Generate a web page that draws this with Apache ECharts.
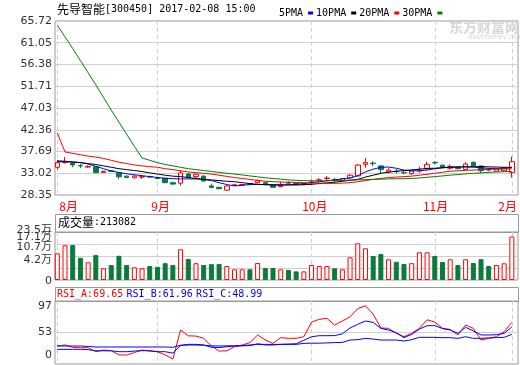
<!DOCTYPE html>
<html><head><meta charset="utf-8">
<script src="https://cdn.jsdelivr.net/npm/echarts@6/dist/echarts.min.js"></script>
<style>html,body{margin:0;padding:0;background:#fff}#c{width:520px;height:365px}</style>
</head><body><div id="c"></div>
<script>
const stockName = '先导智能';
const stockCode = '300450';
const timeStamp = '2017-02-08 15:00';
const maNames = ['5PMA', '10PMA', '20PMA', '30PMA'];
const monthTickIdx = [0, 13, 33, 49, 59];
const monthLabels = ['8月', '9月', '10月', '11月', '2月'];
const priceTicks = [28.35, 33.02, 37.69, 42.36, 47.03, 51.71, 56.38, 61.05, 65.72];
const volTickLabels = ['0', '4.2万', '10.7万', '17.1万', '23.5万'];
const volMax = 235000;
const rsiTickLabels = [0, 53, 97];

const opens  = [34.3,35.3,35.2,34.7,34.35,34.4,33.2,33.55,33.13,32.4,32.05,32.2,32.3,32.0,31.95,31.0,30.9,32.85,32.3,32.4,
                30.3,30.0,29.4,30.4,30.45,30.75,31.0,31.0,30.5,30.15,31.0,30.9,30.6,31.0,31.5,31.9,31.65,31.45,32.05,32.45,
                34.95,35.2,34.6,33.3,33.45,33.2,32.95,33.5,34.07,35.35,34.75,34.1,34.2,33.85,35.35,34.57,33.8,33.45,33.56,33.2];
const closes = [35.3,35.5,34.8,34.6,34.45,33.15,33.45,33.45,32.27,32.1,32.4,32.3,32.2,31.9,31.0,30.7,33.1,32.14,32.8,31.35,
                29.95,29.7,30.28,30.55,30.6,30.65,31.4,30.75,30.0,30.5,30.9,30.6,30.7,31.2,31.6,32.0,31.55,31.9,32.6,34.78,
                35.3,35.1,33.85,33.7,33.35,33.1,33.5,33.75,34.93,35.25,34.3,34.5,34.0,35.0,34.6,33.56,33.7,33.95,34.2,35.5];
const lows   = [33.85,35.1,34.3,34.1,34.2,33.1,33.1,33.3,31.78,32.0,31.95,31.8,32.0,31.7,30.9,30.5,30.4,31.9,32.0,31.2,
                29.9,29.6,29.27,30.3,30.35,30.4,30.85,30.55,29.9,30.0,30.6,30.5,30.5,30.5,31.0,31.4,31.1,31.3,31.9,32.3,
                34.2,34.55,33.0,33.0,33.0,32.8,32.65,33.15,33.7,34.9,34.2,33.8,33.9,33.7,34.5,33.13,33.4,33.3,33.4,32.1];
const highs  = [35.85,36.5,35.3,35.0,34.7,34.5,33.55,33.7,33.3,32.5,32.6,32.6,32.5,32.1,32.0,31.2,33.6,33.1,33.0,32.6,
                30.8,30.1,30.4,30.7,30.75,30.95,31.7,31.2,30.6,31.2,31.3,31.0,30.9,31.7,32.0,32.4,32.0,32.0,32.85,35.0,
                36.3,35.6,34.7,34.1,33.9,33.5,33.7,34.4,35.5,35.6,34.85,34.9,34.4,35.4,35.6,34.7,34.2,34.1,34.3,36.6];
const volumes = [130700,170000,171000,109000,86700,122000,57300,73400,118500,73400,62200,57300,68500,64600,82300,73400,150300,102800,82300,73400,
                 77400,78800,68500,52400,52400,52400,83200,58800,58800,52400,49000,42100,42100,73400,68500,68500,57300,52400,111100,179700,
                 155200,117500,127300,101300,89100,78300,82300,135600,135600,117500,88100,101300,73400,101300,83200,101800,68500,73400,81800,213082];
const ma5  = [35.7,35.6,35.5,35.3,35.0,34.5,34.0,33.5,33.2,32.9,32.7,32.5,32.3,32.1,31.95,31.85,31.8,31.8,31.8,31.7,
              31.45,31.0,30.6,30.3,30.45,30.6,30.6,30.6,30.55,30.5,30.55,30.65,30.8,31.0,31.2,31.4,31.6,31.8,32.0,32.5,
              33.3,33.9,34.3,34.35,34.1,33.7,33.55,33.55,33.7,34.0,34.2,34.35,34.4,34.4,34.35,34.2,34.05,34.0,34.0,34.3];
const ma10 = [35.5,35.5,35.4,35.3,35.1,34.9,34.6,34.3,34.0,33.8,33.6,33.4,33.1,32.85,32.6,32.4,32.3,32.1,31.9,31.7,
              31.6,31.45,31.3,31.2,31.0,30.8,30.65,30.55,30.5,30.5,30.5,30.5,30.55,30.65,30.8,30.95,31.1,31.3,31.5,31.7,
              32.2,32.6,33.0,33.25,33.45,33.6,33.75,33.9,34.05,34.1,34.2,34.3,34.35,34.4,34.4,34.45,34.4,34.35,34.3,34.3];
const ma20 = [41.7,37.6,37.3,37.0,36.7,36.5,36.2,35.8,35.4,35.1,34.8,34.6,34.45,34.3,34.0,33.8,33.55,33.3,33.15,33.0,
              32.85,32.6,32.35,32.1,31.9,31.7,31.5,31.3,31.2,31.15,31.1,31.05,31.0,30.95,30.9,30.85,30.85,30.9,31.0,31.2,
              31.45,31.7,31.9,32.1,32.2,32.3,32.4,32.6,32.8,33.0,33.25,33.45,33.55,33.65,33.7,33.8,33.85,33.9,33.95,34.0];
const ma30 = [64.8,62.3,59.8,57.2,54.6,52.0,49.3,46.6,44.0,41.4,38.8,36.3,35.8,35.3,34.9,34.6,34.3,34.0,33.8,33.6,
              33.4,33.2,33.0,32.85,32.65,32.45,32.25,32.05,31.9,31.75,31.6,31.5,31.45,31.4,31.4,31.4,31.45,31.5,31.55,31.6,
              31.65,31.7,31.75,31.8,31.85,31.85,31.9,32.0,32.15,32.3,32.45,32.6,32.75,32.9,33.0,33.1,33.2,33.3,33.35,33.45];
const rsiA = [29.2,31,27,26.3,26.3,19.5,22.4,21.2,14,13.8,18,22.4,20.5,19.5,14,7,56.5,46.5,46.2,42.3,
              29.2,20.6,21,28,30.9,34.9,48,39.4,33.7,43.4,42.3,42.3,45.1,70,74.7,76.4,65,71.8,79.2,93,
              98,83.5,60,59.3,50.8,45.1,50.8,59.3,74,70,59.3,57.5,48,65,59.3,39.4,42.3,45.1,53.6,69.65];
const rsiB = [23.5,23.5,23.5,23.5,23,21,21,21,19.5,19.5,20.5,21.2,21.2,19.5,19.5,17,30,32,32,31,
              27,26.5,28,29,29.5,30,33,31,31,32,32.5,33,39,45,46.8,46.8,47,50,60,66.2,
              71.8,69.6,59.3,56.5,52,43.4,49.1,58,63.9,63.9,59,56.5,50.8,61,55,48,48,48.5,50.8,61.96];
const rsiC = [29.2,29.2,29.2,29.2,28.5,27.5,27.5,27.5,27.5,27.5,27.5,27.5,27.5,27.5,27.5,27,30.5,30.9,30.9,30.5,
              29.5,29.2,29.5,29.5,30,30.9,32,32,32,32,32,32,33.7,34,34,34.5,35,35.4,39.4,40,
              42.3,41,39.4,39.4,39.4,37.7,40,44,44,44,43.4,43.4,42.3,45,42.3,42.3,43,43.5,44,48.99];

const RED = '#ff0000', GREEN = '#0b7a3a', BLUE = '#0000ff', FRAME = '#999999', GRIDC = '#cfcfcf';
const MONO = "'DejaVu Sans Mono', monospace";
const SANS = "'DejaVu Sans', 'Noto Sans CJK SC', sans-serif";
const CJK = "'Noto Sans CJK SC', sans-serif";
const xMin = -0.3, xMax = 59.8;
const N = closes.length;
const idx = closes.map((_, i) => i);

function xAx(gi) {
  return {type: 'value', gridIndex: gi, min: xMin, max: xMax,
    axisLine: {show: false}, axisTick: {show: false, customValues: monthTickIdx},
    axisLabel: {show: false},
    splitLine: {show: true, lineStyle: {color: GRIDC, width: 1, type: [4, 3]}}};
}
const volTickVals = [0, 1, 2, 3, 4].map(k => volMax * k / 4);
const volRich = {
  r0: {padding: [2, 0, 0, 0], fontSize: 11, fontFamily: SANS, color: '#333'},
  r1: {padding: [0, 0, 16, 0], fontSize: 11, fontFamily: SANS, color: '#333'},
  r2: {padding: [0, 0, 18, 0], fontSize: 11, fontFamily: SANS, color: '#333'},
  r3: {padding: [0, 0, 14, 0], fontSize: 11, fontFamily: SANS, color: '#333'},
  r4: {padding: [0, 0, 4, 0], fontSize: 11, fontFamily: SANS, color: '#333'}
};
const volFmt = v => { const k = Math.round(v / volMax * 4); return '{r' + k + '|' + volTickLabels[k] + '}'; };
function line(name, data, color, xi, yi, z) {
  return {name, type: 'line', xAxisIndex: xi, yAxisIndex: yi, data: idx.map(i => [i, data[i]]),
    symbol: 'none', color, lineStyle: {color, width: 1}, itemStyle: {color}, z: z || 3, silent: true};
}

const chart = echarts.init(document.getElementById('c'), null, {renderer: 'canvas'});
chart.setOption({
  animation: false,
  backgroundColor: '#fff',
  legend: {data: maNames, left: 274, top: 3, align: 'right', icon: 'rect', itemWidth: 5, itemHeight: 3,
    itemGap: 3, selectedMode: false, textStyle: {fontFamily: MONO, fontSize: 10, color: '#000'}},
  grid: [
    {left: 55, right: 2, top: 21, height: 174, show: true, borderColor: FRAME, borderWidth: 1},
    {left: 51, right: 6, top: 21, height: 174, show: false},
    {left: 55, right: 2, top: 232, height: 48, show: true, borderColor: FRAME, borderWidth: 1},
    {left: 55, right: 2, top: 301, height: 63, show: true, borderColor: FRAME, borderWidth: 1}
  ],
  xAxis: [
    xAx(0),
    {type: 'value', gridIndex: 1, min: xMin, max: xMax, axisLine: {show: false},
      axisTick: {show: false, customValues: monthTickIdx}, splitLine: {show: false},
      axisLabel: {show: true, customValues: monthTickIdx, align: 'left', margin: 5, showMinLabel: true, showMaxLabel: true,
        formatter: v => { const k = monthTickIdx.indexOf(v); return k === 0 ? '{f|' + monthLabels[k] + '}' : '{m|' + monthLabels[k] + '}'; },
        rich: {f: {padding: [0, 0, 0, 6], color: RED, fontSize: 12, fontFamily: CJK},
               m: {color: RED, fontSize: 12, fontFamily: CJK}}}},
    xAx(2),
    xAx(3)
  ],
  yAxis: [
    {type: 'value', gridIndex: 0, min: priceTicks[0], max: priceTicks[priceTicks.length - 1],
      axisLine: {show: false}, axisTick: {show: false, customValues: priceTicks},
      axisLabel: {customValues: priceTicks, formatter: v => v.toFixed(2), color: '#333', fontSize: 11, fontFamily: SANS, margin: 3,
        showMinLabel: true, showMaxLabel: true},
      splitLine: {show: true, lineStyle: {color: GRIDC, width: 1}}},
    {type: 'value', gridIndex: 1, show: false, min: 0, max: 1},
    {type: 'value', gridIndex: 2, position: 'left', offset: 0, min: 0, max: volMax, axisLine: {show: false},
      axisTick: {show: false, customValues: volTickVals.slice(1, 4)},
      axisLabel: {customValues: [volTickVals[0], volTickVals[2], volTickVals[4]], margin: 3, showMinLabel: true, showMaxLabel: true,
        formatter: volFmt, rich: volRich},
      splitLine: {show: true, lineStyle: {color: GRIDC, width: 1}}},
    {type: 'value', gridIndex: 3, min: -1.5, max: 106, axisLine: {show: false},
      axisTick: {show: false, customValues: [rsiTickLabels[1]]},
      axisLabel: {customValues: rsiTickLabels, margin: 3, showMinLabel: true, showMaxLabel: true,
        formatter: v => v === 0 ? '{z|' + v + '}' : '{n|' + v + '}',
        rich: {z: {padding: [0, 0, 15, 0], fontSize: 11, fontFamily: SANS, color: '#333'},
               n: {fontSize: 11, fontFamily: SANS, color: '#333'}}},
      splitLine: {show: true, lineStyle: {color: GRIDC, width: 1}}},
    {type: 'value', gridIndex: 2, position: 'left', offset: 0, min: 0, max: volMax, axisLine: {show: false},
      axisTick: {show: false, customValues: [volTickVals[1], volTickVals[3]]},
      axisLabel: {customValues: [volTickVals[1], volTickVals[3]], margin: 3, showMinLabel: true, showMaxLabel: true,
        formatter: volFmt, rich: volRich},
      splitLine: {show: false}}
  ],
  series: [
    {type: 'candlestick', xAxisIndex: 0, yAxisIndex: 0, barWidth: 5, silent: true, z: 2,
      data: idx.map(i => [i, opens[i], closes[i], lows[i], highs[i]]),
      encode: {x: 0, y: [1, 2, 3, 4]},
      itemStyle: {color: '#ffffff', color0: GREEN, borderColor: RED, borderColor0: GREEN, borderWidth: 1}},
    line(maNames[0], ma5, BLUE, 0, 0),
    line(maNames[1], ma10, '#000000', 0, 0),
    line(maNames[2], ma20, RED, 0, 0),
    line(maNames[3], ma30, '#008000', 0, 0),
    {type: 'bar', xAxisIndex: 2, yAxisIndex: 2, barWidth: 5, silent: true,
      data: idx.map(i => ({value: [i, volumes[i]],
        itemStyle: closes[i] >= opens[i] ? {color: '#ffffff', borderColor: RED, borderWidth: 1} : {color: GREEN, borderColor: GREEN, borderWidth: 1}}))},
    line('RSI_A', rsiA, RED, 3, 3),
    line('RSI_B', rsiB, BLUE, 3, 3),
    line('RSI_C', rsiC, BLUE, 3, 3)
  ],
  graphic: [
    {type: 'text', left: 57, top: 3, silent: true, style: {
      text: '{a|' + stockName + '}{b|[' + stockCode + '] ' + timeStamp + '}',
      rich: {a: {fontFamily: CJK, fontSize: 12, fill: '#000'}, b: {fontFamily: MONO, fontSize: 10, fill: '#000'}}}},
    {type: 'text', left: 449, top: 20, silent: true, style: {text: '东方财富网', font: 'bold 14px ' + CJK, fill: '#d6d6d6'}},
    {type: 'text', left: 468, top: 34, silent: true, style: {text: 'eastmoney.com', font: '7px ' + SANS, fill: '#d6d6d6'}},
    {type: 'rect', silent: true, shape: {x: 55.5, y: 214.5, width: 463, height: 18}, style: {fill: 'none', stroke: FRAME, lineWidth: 1}},
    {type: 'text', left: 58, top: 216, silent: true, style: {
      text: '{a|成交量}{b|:' + volumes[N - 1] + '}',
      rich: {a: {fontFamily: CJK, fontSize: 12, fill: '#000'}, b: {fontFamily: MONO, fontSize: 10, fill: '#000'}}}},
    {type: 'rect', silent: true, shape: {x: 55.5, y: 287.5, width: 463, height: 14}, style: {fill: 'none', stroke: FRAME, lineWidth: 1}},
    {type: 'text', left: 57, top: 288, silent: true, style: {
      text: '{a|RSI_A:' + rsiA[N - 1].toFixed(2) + '} {b|RSI_B:' + rsiB[N - 1].toFixed(2) + '} {b|RSI_C:' + rsiC[N - 1].toFixed(2) + '}',
      rich: {a: {fontFamily: MONO, fontSize: 10, fill: RED}, b: {fontFamily: MONO, fontSize: 10, fill: BLUE}}}}
  ]
});
</script></body></html>
